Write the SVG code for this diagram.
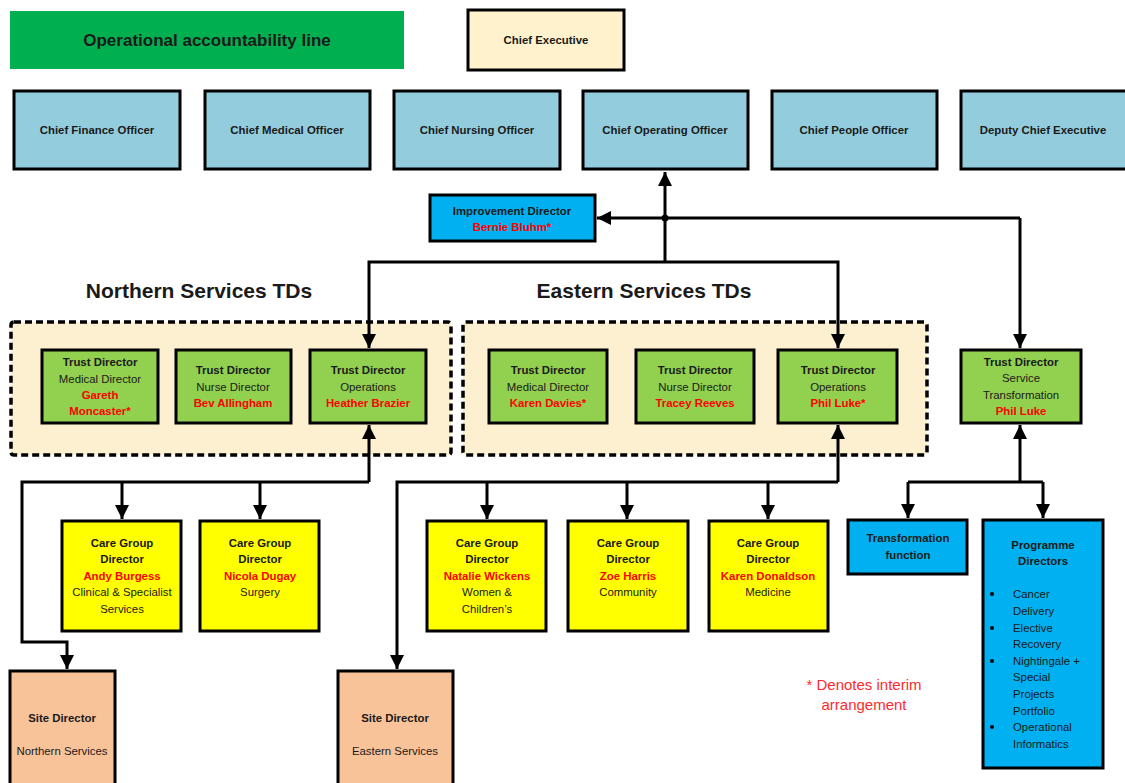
<svg xmlns="http://www.w3.org/2000/svg" width="1125" height="783" viewBox="0 0 1125 783">
<defs>
<marker id="arr" markerUnits="userSpaceOnUse" markerWidth="14" markerHeight="14" refX="14" refY="7" orient="auto"><path d="M0,0 L14,7 L0,14 z" fill="#000"/></marker>
<style>
text{font-family:"Liberation Sans",Arial,sans-serif;text-anchor:middle;fill:#1a1a1a}
.b{font-weight:bold}
.r{fill:#ff0000;font-weight:bold}
.n{stroke:#000;stroke-width:3}
.s{font-size:11.4px}
.c{stroke:#000;stroke-width:3;fill:none}
.blue{fill:#93cddd}
.green{fill:#92d050}
.yel{fill:#ffff00}
.site{fill:#f9c39a}
.cyan{fill:#00b0f0}
.l{text-anchor:start}
</style>
</defs>
<rect width="1125" height="783" fill="#fff"/>

<g id="legend-banner"><rect x="10" y="11" width="394" height="58" fill="#00b050"/><text x="207" y="46" class="b" font-size="17">Operational accountability line</text></g>
<g id="chief-executive"><rect x="468" y="10" width="156" height="60" fill="#fff2cc" class="n"/><text x="546" y="44" class="b s">Chief Executive</text></g>

<g id="cfo"><rect x="14" y="91" width="166" height="78" class="n blue"/><text x="97" y="134" class="b s">Chief Finance Officer</text></g>
<g id="cmo"><rect x="205" y="91" width="165" height="78" class="n blue"/><text x="287" y="134" class="b s">Chief Medical Officer</text></g>
<g id="cno"><rect x="394" y="91" width="166" height="78" class="n blue"/><text x="477" y="134" class="b s">Chief Nursing Officer</text></g>
<g id="coo"><rect x="583" y="91" width="165" height="78" class="n blue"/><text x="665" y="134" class="b s">Chief Operating Officer</text></g>
<g id="cpo"><rect x="772" y="91" width="165" height="78" class="n blue"/><text x="854" y="134" class="b s">Chief People Officer</text></g>
<g id="dce"><rect x="961" y="91" width="166" height="78" class="n blue"/><text x="1043" y="134" class="b s">Deputy Chief Executive</text></g>

<g id="improvement-director"><rect x="430" y="195" width="165" height="46" class="n cyan"/><text x="512" y="215" class="b s">Improvement Director</text><text x="512" y="231" class="r s">Bernie Bluhm*</text></g>

<text x="199" y="298" class="b" font-size="21">Northern Services TDs</text>
<text x="644" y="298" class="b" font-size="21">Eastern Services TDs</text>

<g id="northern-group"><rect x="11" y="322" width="440" height="133" rx="3" fill="#fdf0d0" stroke="#000" stroke-width="3.5" stroke-dasharray="7,4"/></g>
<g id="eastern-group"><rect x="463" y="322" width="464" height="133" rx="3" fill="#fdf0d0" stroke="#000" stroke-width="3.5" stroke-dasharray="7,4"/></g>

<g id="n-td-medical"><rect x="42" y="350" width="116" height="73" class="n green"/><text x="100" y="366" class="b s">Trust Director</text><text x="100" y="383" class="s">Medical Director</text><text x="100" y="399" class="r s">Gareth</text><text x="100" y="415" class="r s">Moncaster*</text></g>
<g id="n-td-nurse"><rect x="176" y="350" width="115" height="73" class="n green"/><text x="233" y="374" class="b s">Trust Director</text><text x="233" y="391" class="s">Nurse Director</text><text x="233" y="407" class="r s">Bev Allingham</text></g>
<g id="n-td-ops"><rect x="310" y="350" width="116" height="73" class="n green"/><text x="368" y="374" class="b s">Trust Director</text><text x="368" y="391" class="s">Operations</text><text x="368" y="407" class="r s">Heather Brazier</text></g>

<g id="e-td-medical"><rect x="489" y="350" width="118" height="73" class="n green"/><text x="548" y="374" class="b s">Trust Director</text><text x="548" y="391" class="s">Medical Director</text><text x="548" y="407" class="r s">Karen Davies*</text></g>
<g id="e-td-nurse"><rect x="636" y="350" width="118" height="73" class="n green"/><text x="695" y="374" class="b s">Trust Director</text><text x="695" y="391" class="s">Nurse Director</text><text x="695" y="407" class="r s">Tracey Reeves</text></g>
<g id="e-td-ops"><rect x="778" y="350" width="119" height="73" class="n green"/><text x="838" y="374" class="b s">Trust Director</text><text x="838" y="391" class="s">Operations</text><text x="838" y="407" class="r s">Phil Luke*</text></g>

<g id="td-service-transformation"><rect x="961" y="350" width="120" height="73" class="n green"/><text x="1021" y="366" class="b s">Trust Director</text><text x="1021" y="382" class="s">Service</text><text x="1021" y="399" class="s">Transformation</text><text x="1021" y="415" class="r s">Phil Luke</text></g>

<g id="cg-andy"><rect x="62" y="521" width="119" height="110" class="n yel"/><text x="122" y="547" class="b s">Care Group</text><text x="122" y="563" class="b s">Director</text><text x="122" y="580" class="r s">Andy Burgess</text><text x="122" y="596" class="s">Clinical &amp; Specialist</text><text x="122" y="613" class="s">Services</text></g>
<g id="cg-nicola"><rect x="200" y="521" width="119" height="110" class="n yel"/><text x="260" y="547" class="b s">Care Group</text><text x="260" y="563" class="b s">Director</text><text x="260" y="580" class="r s">Nicola Dugay</text><text x="260" y="596" class="s">Surgery</text></g>
<g id="cg-natalie"><rect x="427" y="521" width="119" height="110" class="n yel"/><text x="487" y="547" class="b s">Care Group</text><text x="487" y="563" class="b s">Director</text><text x="487" y="580" class="r s">Natalie Wickens</text><text x="487" y="596" class="s">Women &amp;</text><text x="487" y="613" class="s">Children’s</text></g>
<g id="cg-zoe"><rect x="568" y="521" width="120" height="110" class="n yel"/><text x="628" y="547" class="b s">Care Group</text><text x="628" y="563" class="b s">Director</text><text x="628" y="580" class="r s">Zoe Harris</text><text x="628" y="596" class="s">Community</text></g>
<g id="cg-karen"><rect x="709" y="521" width="119" height="110" class="n yel"/><text x="768" y="547" class="b s">Care Group</text><text x="768" y="563" class="b s">Director</text><text x="768" y="580" class="r s">Karen Donaldson</text><text x="768" y="596" class="s">Medicine</text></g>

<g id="transformation-function"><rect x="848" y="520" width="119" height="54" class="n cyan"/><text x="908" y="542" class="b s">Transformation</text><text x="908" y="559" class="b s">function</text></g>
<g id="programme-directors"><rect x="983" y="520" width="120" height="248" class="n cyan"/><text x="1043" y="549" class="b s">Programme</text><text x="1043" y="565" class="b s">Directors</text>
<text x="1013" y="598" class="s l">Cancer</text><text x="1013" y="615" class="s l">Delivery</text><text x="1013" y="632" class="s l">Elective</text><text x="1013" y="648" class="s l">Recovery</text><text x="1013" y="665" class="s l">Nightingale +</text><text x="1013" y="681" class="s l">Special</text><text x="1013" y="698" class="s l">Projects</text><text x="1013" y="715" class="s l">Portfolio</text><text x="1013" y="731" class="s l">Operational</text><text x="1013" y="748" class="s l">Informatics</text>
<circle cx="992" cy="594" r="2" fill="#000"/><circle cx="992" cy="628" r="2" fill="#000"/><circle cx="992" cy="661" r="2" fill="#000"/><circle cx="992" cy="727" r="2" fill="#000"/></g>

<g id="site-northern"><rect x="10" y="671" width="105" height="114" class="n site"/><text x="62" y="722" class="b s">Site Director</text><text x="62" y="755" class="s">Northern Services</text></g>
<g id="site-eastern"><rect x="338" y="671" width="115" height="114" class="n site"/><text x="395" y="722" class="b s">Site Director</text><text x="395" y="755" class="s">Eastern Services</text></g>

<g id="note"><text x="864" y="690" font-size="15" style="fill:#ff2a2a">* Denotes interim</text><text x="864" y="710" font-size="15" style="fill:#ff2a2a">arrangement</text></g>

<g id="connectors">
<path class="c" d="M665,262 L665,172" marker-end="url(#arr)"/>
<path class="c" d="M1020,218 L597,218" marker-end="url(#arr)"/>
<path class="c" d="M1020,218 L1020,348" marker-end="url(#arr)"/>
<circle cx="665" cy="218" r="3.5" fill="#000"/>
<path class="c" d="M665,262 L369,262 L369,348" marker-end="url(#arr)"/>
<path class="c" d="M665,262 L838,262 L838,348" marker-end="url(#arr)"/>
<path class="c" d="M369,482 L369,425" marker-end="url(#arr)"/>
<path class="c" d="M369,482 L22,482 L22,642 L67,642 L67,669" marker-end="url(#arr)"/>
<path class="c" d="M122,482 L122,519" marker-end="url(#arr)"/>
<path class="c" d="M260,482 L260,519" marker-end="url(#arr)"/>
<path class="c" d="M838,482 L838,425" marker-end="url(#arr)"/>
<path class="c" d="M838,482 L397,482 L397,669" marker-end="url(#arr)"/>
<path class="c" d="M487,482 L487,519" marker-end="url(#arr)"/>
<path class="c" d="M627,482 L627,519" marker-end="url(#arr)"/>
<path class="c" d="M768,482 L768,519" marker-end="url(#arr)"/>
<path class="c" d="M1020,482 L1020,425" marker-end="url(#arr)"/>
<path class="c" d="M908,482 L1043,482"/>
<path class="c" d="M908,482 L908,518" marker-end="url(#arr)"/>
<path class="c" d="M1043,482 L1043,518" marker-end="url(#arr)"/>
</g>
</svg>
